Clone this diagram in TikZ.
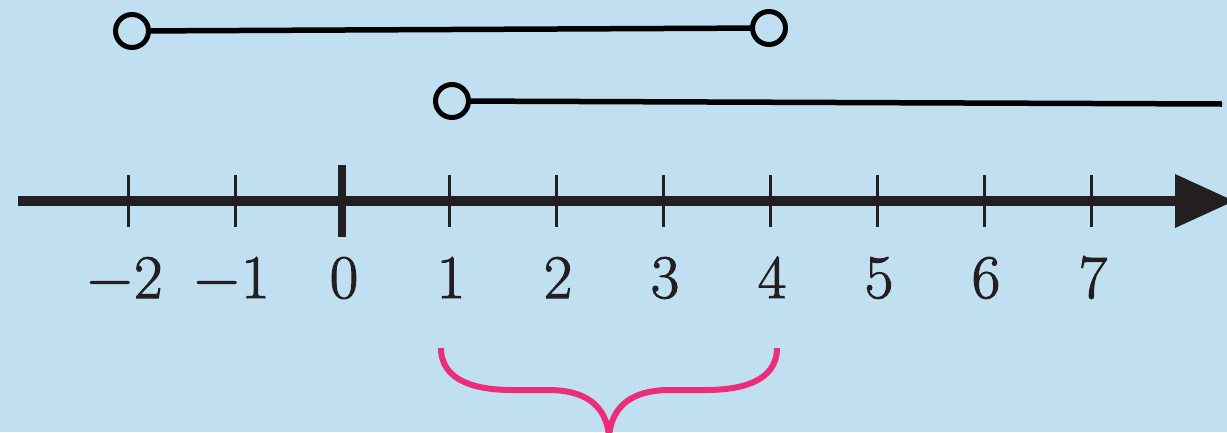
\documentclass[tikz,border=0pt]{standalone}
\usepackage{fontspec}
\usepackage{tikz}
\newfontfamily\digitfont{Latin Modern Roman}[FakeBold=1.6]
\definecolor{bg}{RGB}{192,224,241}
\definecolor{axis}{RGB}{35,31,32}
\definecolor{brace}{RGB}{236,46,122}
\begin{document}
\begin{tikzpicture}[x=1pt,y=-1pt,
  opendot/.style={circle,draw=black,line width=5pt,minimum size=33pt,inner sep=0pt,fill=none},
  seg/.style={draw=black,line width=5.5pt},
  minortick/.style={draw=axis,line width=3pt},
  lab/.style={font=\digitfont\fontsize{62}{62}\selectfont,text=axis,anchor=base,inner sep=0pt}]
\useasboundingbox (0,0) rectangle (1227,432);
\fill[bg] (0,0) rectangle (1227,432);
% axis
\draw[axis,line width=10pt] (18,201) -- (1180,201);
\fill[axis] (1175,174) -- (1234,201) -- (1175,228) -- cycle;
\foreach \n in {-2,-1,1,2,3,4,5,6,7}{
  \draw[minortick] (342+107*\n,175) -- (342+107*\n,227);
}
\draw[axis,line width=8pt] (342,165) -- (342,237);
\node[lab] (lm2) at (125,298) {−\hspace{2pt}2};
\node[lab] (lm1) at (232,298) {−\hspace{2pt}1};
\foreach \n in {0,1,2,3,4,5,6,7}{
  \node[lab] (l\n) at (344+107*\n,298) {\n};
}
% interval (-2,4)
\node[opendot] (a) at (132,31) {};
\node[opendot] (b) at (769,28) {};
\draw[seg] (a) -- (b);
% ray (1, inf)
\node[opendot] (c) at (452,101) {};
\coordinate (cend) at (1222,104);
\draw[seg] (c) -- (cend);
% brace
\draw[brace,line width=6pt]
  (441,348) .. controls (441,382) and (478,390) .. (512,390) -- (548,390)
  .. controls (585,390) and (606,405) .. (609,436);
\draw[brace,line width=6pt]
  (777,348) .. controls (777,382) and (740,390) .. (706,390) -- (670,390)
  .. controls (633,390) and (612,405) .. (609,436);
\end{tikzpicture}
\end{document}
